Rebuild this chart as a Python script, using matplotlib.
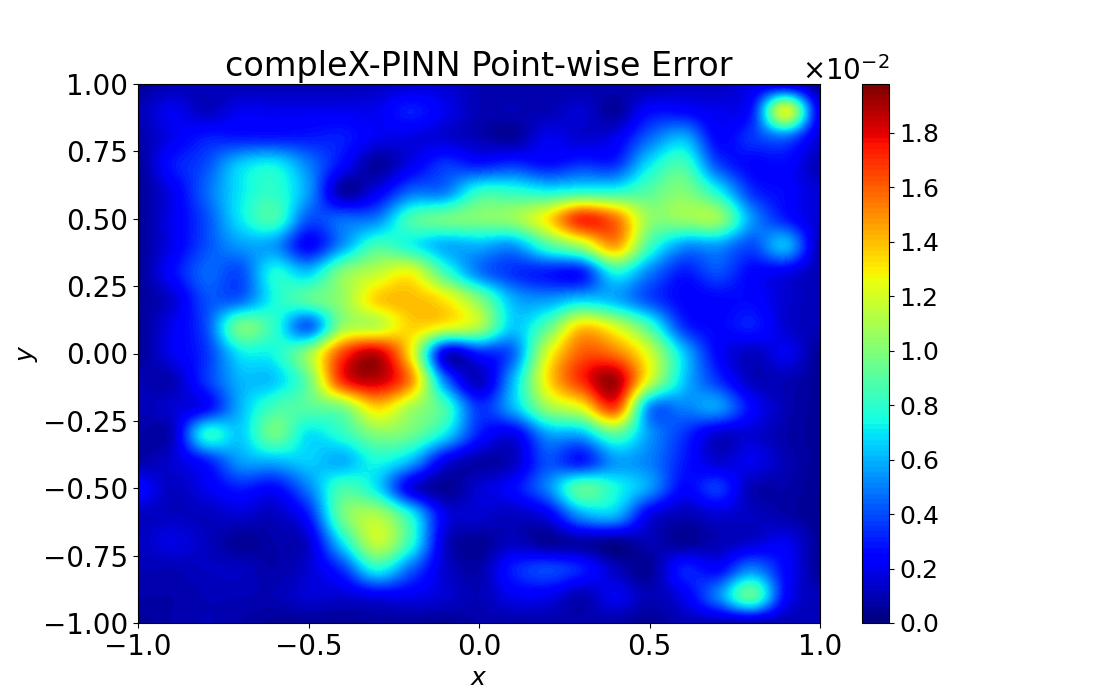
import numpy as np
import matplotlib
matplotlib.use("Agg")
import matplotlib.pyplot as plt
from matplotlib.ticker import ScalarFormatter

x_range = [-1.0, 1.0]
y_range = [-1.0, 1.0]
x_ticks = [-1.0, -0.5, 0.0, 0.5, 1.0]
y_ticks = [-1.0, -0.75, -0.5, -0.25, 0.0, 0.25, 0.5, 0.75, 1.0]
cbar_ticks = [0.0, 0.2, 0.4, 0.6, 0.8, 1.0, 1.2, 1.4, 1.6, 1.8]
err_max = 1.98
title_text = "compleX-PINN Point-wise Error"

# error in units of 1e-2, sampled every 0.1; rows y=+1.0 ... -1.0, columns x=-1.0 ... +1.0
error_rows = [
 [.05,.10,.10,.10,.10,.10,.10,.12,.15,.15,.10,.08,.08,.08,.10,.08,.12,.12,.18,.18,.05],
 [.10,.20,.12,.20,.20,.20,.20,.20,.30,.20,.10,.10,.10,.15,.06,.25,.25,.20,.30,1.20,.20],
 [.08,.20,.30,.30,.30,.30,.30,.20,.18,.15,.10,.06,.20,.15,.20,.45,.60,.25,.35,.45,.15],
 [.05,.28,.40,.65,.72,.50,.25,.06,.20,.35,.30,.35,.28,.35,.35,.70,.85,.40,.25,.25,.10],
 [.05,.20,.45,.70,.80,.55,.08,.20,.45,.50,.80,.80,.75,.80,.80,.90,1.00,.75,.35,.25,.15],
 [.05,.20,.40,.70,.85,.42,.45,.50,.85,.95,1.00,1.05,1.30,1.70,1.55,1.05,1.05,1.05,.55,.30,.15],
 [.05,.20,.40,.55,.55,.25,.55,.85,.75,.60,.60,.55,.85,1.10,1.45,.85,.55,.55,.40,.60,.10],
 [.05,.25,.45,.40,.75,.65,1.00,1.15,1.25,.85,.50,.35,.30,.30,.75,.50,.30,.40,.25,.20,.10],
 [.05,.15,.40,.45,.75,.90,1.05,1.35,1.40,1.30,1.00,.60,.55,.65,.60,.40,.25,.25,.25,.15,.10],
 [.05,.20,.40,.95,.80,.45,1.05,1.15,1.35,1.25,1.10,.65,.90,1.35,1.20,.85,.35,.25,.30,.15,.10],
 [.05,.20,.35,.70,.75,1.05,1.65,1.85,1.30,.20,.30,.45,1.20,1.60,1.55,1.20,.65,.25,.12,.20,.05],
 [.10,.10,.35,.60,.65,.95,1.70,1.85,1.50,.50,.12,.60,1.30,1.70,1.90,1.20,.65,.35,.12,.10,.05],
 [.10,.15,.25,.60,.85,.90,1.00,1.35,1.10,.85,.35,.60,1.05,1.25,1.65,.55,.50,.55,.25,.10,.05],
 [.08,.12,.75,.65,.95,.70,.80,1.00,.95,.70,.30,.20,.55,.60,.90,.55,.35,.15,.15,.08,.05],
 [.08,.15,.30,.55,.60,.65,.60,.75,.60,.20,.08,.12,.40,.30,.55,.50,.30,.15,.20,.10,.05],
 [.25,.12,.20,.30,.25,.50,.85,.70,.20,.05,.15,.25,.50,.90,.75,.55,.25,.35,.10,.08,.04],
 [.12,.12,.12,.15,.12,.30,.95,1.10,.75,.20,.15,.12,.20,.55,.60,.20,.10,.15,.12,.08,.04],
 [.12,.18,.12,.05,.08,.15,.70,1.15,.80,.15,.05,.12,.05,.08,.04,.10,.05,.10,.15,.20,.05],
 [.10,.10,.12,.12,.08,.15,.35,.75,.45,.15,.08,.30,.38,.30,.12,.05,.30,.25,.50,.25,.05],
 [.08,.08,.10,.10,.10,.15,.15,.20,.20,.15,.10,.20,.20,.10,.20,.10,.20,.50,.90,.25,.10],
 [.05,.08,.10,.08,.05,.05,.05,.06,.06,.05,.08,.08,.08,.08,.08,.05,.10,.10,.10,.10,.10],
]

Z = np.array(error_rows) * 1e-2
dx = (x_range[1] - x_range[0]) / (Z.shape[1] - 1) / 2
dy = (y_range[1] - y_range[0]) / (Z.shape[0] - 1) / 2
W, H = 1100, 700

fig = plt.figure(figsize=(11, 7), dpi=100)
ax = fig.add_axes([138 / W, 1 - 623 / H, 682 / W, 539 / H])
cax = fig.add_axes([862 / W, 1 - 623 / H, 27 / W, 539 / H])
cmap = plt.get_cmap("jet", 100)
im = ax.imshow(Z, cmap=cmap, vmin=0, vmax=err_max * 1e-2, aspect="auto", origin="upper",
               interpolation="catrom",
               extent=(x_range[0] - dx, x_range[1] + dx, y_range[0] - dy, y_range[1] + dy))
ax.set_xlim(x_range)
ax.set_ylim(y_range)
ax.set_xticks(x_ticks)
ax.set_yticks(y_ticks)
ax.tick_params(labelsize=20)
ax.set_xlabel("$x$", fontsize=18, labelpad=4)
ax.set_ylabel("$y$", fontsize=18, labelpad=2)
ax.set_title(title_text, fontsize=24, pad=6)

cb = fig.colorbar(im, cax=cax)
fmt = ScalarFormatter(useMathText=True)
fmt.set_powerlimits((0, 0))
cb.ax.yaxis.set_major_formatter(fmt)
cb.set_ticks([t * 1e-2 for t in cbar_ticks])
cb.ax.tick_params(labelsize=18)
cb.ax.yaxis.get_offset_text().set_fontsize(20)
fig.savefig("out.png", dpi=100)
